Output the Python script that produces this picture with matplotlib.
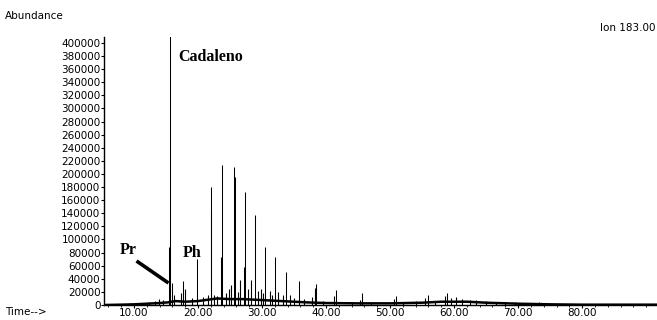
import matplotlib
matplotlib.use("Agg")
import matplotlib.pyplot as plt
from matplotlib.ticker import MultipleLocator, FormatStrFormatter

# Retention times (min) and abundances of the resolved peaks, ion 183
peak_times = [15.47, 15.63, 15.94, 17.66, 19.84,
              21.95, 22.03, 23.60, 23.75, 25.62, 25.78,
              27.20, 27.35, 28.90, 30.50, 32.00, 33.75,
              35.80, 38.40, 41.60, 45.60, 50.90, 55.90, 58.90, 73.30]
peak_heights = [88000, 410000, 33000, 36000, 70000,
                141000, 180000, 73000, 214000, 210000, 195000,
                58000, 173000, 137000, 88000, 73000, 50000,
                36000, 32000, 23000, 18000, 14000, 15000, 18000, 5000]

# Minor spikes riding on the baseline
minor_times = [7.5, 9.5, 11.0, 12.3, 13.2, 13.9, 14.5, 16.3, 17.4, 17.9,
               19.0, 20.8, 21.5, 22.5, 23.0, 24.4, 24.9, 25.2, 26.3, 26.6,
               27.8, 28.2, 29.3, 29.8, 30.2, 31.2, 31.6, 32.5, 33.2, 34.3,
               35.0, 36.5, 37.8, 38.2, 39.5, 41.3, 44.0, 45.3, 47.0, 50.6,
               52.0, 54.0, 55.5, 57.0, 58.6, 59.5, 60.3, 61.2, 62.5, 63.5,
               65.0, 66.5, 68.0, 69.5]
minor_heights = [2000, 2500, 3000, 5000, 6000, 9000, 7000, 15000, 18000, 25000,
                 10000, 12000, 15000, 16000, 14000, 18000, 25000, 30000, 20000, 38000,
                 25000, 38000, 22000, 24000, 18000, 22000, 16000, 20000, 15000, 16000,
                 10000, 9000, 12000, 26000, 6000, 14000, 5000, 8000, 5000, 9000,
                 4000, 6000, 10000, 6000, 14000, 11000, 12000, 9000, 8000, 7000,
                 6000, 5000, 4000, 4000]

# Baseline level of the trace
base_times = [5.4, 8, 10, 12, 14, 15.3, 16.5, 18, 20, 21.5, 23, 25, 27, 29, 31,
              33, 35, 37, 40, 45, 50, 55, 58, 62, 65, 70, 75, 80, 91.7]
base_levels = [0, 500, 1000, 2000, 3000, 4000, 6000, 5000, 6000, 8000, 10000,
               9000, 9000, 8000, 7000, 6000, 5000, 4000, 3000, 2500, 2500, 3500,
               5000, 5000, 3500, 2000, 1000, 500, 500]

y_ticks = list(range(0, 400001, 20000))
x_ticks = [10, 20, 30, 40, 50, 60, 70, 80]

fig = plt.figure(figsize=(6.57, 3.2), dpi=100)
ax = fig.add_axes([104 / 657, 15 / 320, 1 - 104 / 657, 268 / 320])

ax.plot(base_times, base_levels, color="black", lw=1.8, solid_joinstyle="miter")
ax.vlines(minor_times, 0, minor_heights, color="black", lw=0.8)
ax.vlines(peak_times, 0, peak_heights, color="black", lw=0.75)

ax.set_xlim(5.31, 91.7)
ax.set_ylim(0, 409000)

for s in ["top", "right"]:
    ax.spines[s].set_visible(False)
for s in ["left", "bottom"]:
    ax.spines[s].set_linewidth(1.0)

ax.set_yticks(y_ticks)
ax.set_yticklabels([str(v) for v in y_ticks])
ax.set_xticks(x_ticks)
ax.xaxis.set_major_formatter(FormatStrFormatter("%.2f"))
ax.xaxis.set_minor_locator(MultipleLocator(2))
ax.tick_params(axis="y", direction="out", length=2, width=0.8, pad=0.5,
               labelsize=7.5)
ax.tick_params(axis="x", which="major", direction="out", length=2, width=0.8,
               pad=0, labelsize=7.5)
ax.tick_params(axis="x", which="minor", direction="out", length=1.5, width=0.6)

fig.text(5 / 657, 1 - 16 / 320, "Abundance", fontsize=7.5, va="center", ha="left")
fig.text(655 / 657, 1 - 28 / 320, "Ion 183.00", fontsize=7.5, va="center", ha="right")
fig.text(5 / 657, 1 - 312 / 320, "Time-->", fontsize=7.5, va="center", ha="left")

serif = ["Liberation Serif", "DejaVu Serif"]
fig.text(178 / 657, 1 - 57 / 320, "Cadaleno", fontsize=11.5, fontweight="bold",
         family=serif, va="center", ha="left")
fig.text(120 / 657, 1 - 250 / 320, "Pr", fontsize=11.5, fontweight="bold",
         family=serif, va="center", ha="left")
fig.text(183 / 657, 1 - 253 / 320, "Ph", fontsize=11.5, fontweight="bold",
         family=serif, va="center", ha="left")

# Leader line from the Pr label to its peak
fig.add_artist(plt.Line2D([138 / 657, 167 / 657], [1 - 262 / 320, 1 - 282 / 320],
                          color="black", lw=2.6, transform=fig.transFigure))

fig.savefig("out.png", dpi=100)
